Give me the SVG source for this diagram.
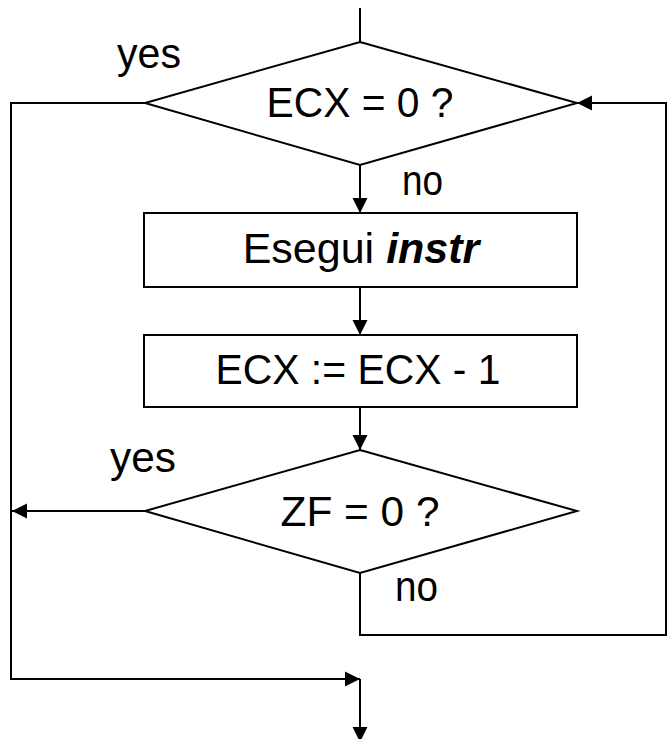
<svg xmlns="http://www.w3.org/2000/svg" width="671" height="739" viewBox="0 0 671 739">
<defs>
<marker id="arr" markerUnits="userSpaceOnUse" markerWidth="15" markerHeight="15" refX="15" refY="7.5" orient="auto" overflow="visible">
<path d="M0,0 L15,7.5 L0,15 Z" fill="#000"/>
</marker>
</defs>
<style>
.shape{fill:#fff;stroke:#000;stroke-width:2}
.line{fill:none;stroke:#000;stroke-width:2}
.arrow{marker-end:url(#arr)}
text{font-family:"Liberation Sans",Arial,sans-serif;font-size:43px;fill:#000}
.c{text-anchor:middle}
</style>
<rect width="671" height="739" fill="#fff"/>
<g id="connectors">
<path class="line" d="M360,8 L360,42"/>
<path class="line arrow" d="M145,103 L11,103 L11,679 L360,679"/>
<path class="line arrow" d="M360,165 L360,213"/>
<path class="line arrow" d="M360,287 L360,335"/>
<path class="line arrow" d="M360,407 L360,450"/>
<path class="line arrow" d="M145,511 L12,511"/>
<path class="line arrow" d="M360,573 L360,635 L666,635 L666,103 L577,103"/>
<path class="line arrow" d="M360,679 L360,742"/>
</g>
<g id="decision1">
<polygon class="shape" points="360,42 577,103 360,165 145,103"/>
<text class="c" x="360" y="117" textLength="187" lengthAdjust="spacingAndGlyphs">ECX = 0 ?</text>
</g>
<g id="label-yes1"><text x="117" y="68" textLength="64" lengthAdjust="spacingAndGlyphs">yes</text></g>
<g id="label-no1"><text x="402" y="195" textLength="41" lengthAdjust="spacingAndGlyphs">no</text></g>
<g id="box1">
<rect class="shape" x="144" y="213" width="433" height="74"/>
<text class="c" x="361" y="263">Esegui <tspan font-weight="bold" font-style="italic">instr</tspan></text>
</g>
<g id="box2">
<rect class="shape" x="144" y="335" width="433" height="72"/>
<text class="c" x="358" y="384" textLength="285" lengthAdjust="spacingAndGlyphs">ECX := ECX - 1</text>
</g>
<g id="decision2">
<polygon class="shape" points="360,450 577,511 360,573 145,511"/>
<text class="c" x="360" y="526" textLength="159" lengthAdjust="spacingAndGlyphs">ZF = 0 ?</text>
</g>
<g id="label-yes2"><text x="110" y="472" textLength="66" lengthAdjust="spacingAndGlyphs">yes</text></g>
<g id="label-no2"><text x="395" y="601" textLength="43" lengthAdjust="spacingAndGlyphs">no</text></g>
</svg>
